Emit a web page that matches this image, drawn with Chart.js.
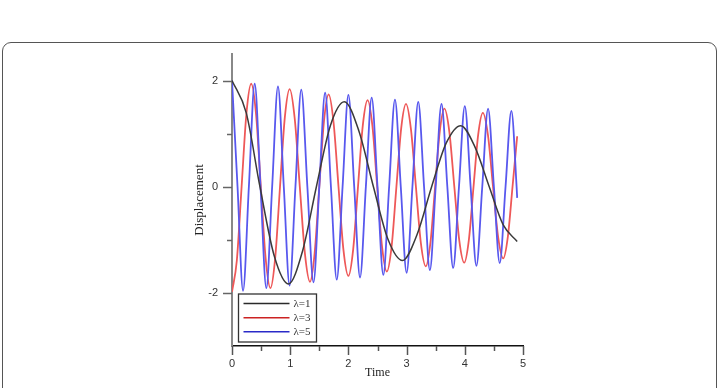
<!DOCTYPE html>
<html>
<head>
<meta charset="utf-8">
<script src="https://cdn.jsdelivr.net/npm/chart.js@4.4.1/dist/chart.umd.min.js"></script>
<style>
  html, body { margin:0; padding:0; background:#fff; width:721px; height:388px; overflow:hidden; }
  #frame { position:absolute; left:2px; top:42px; width:715px; height:420px; border:1px solid #555; border-radius:9px; box-sizing:border-box; }
  #c { position:absolute; left:0; top:0; }
</style>
</head>
<body>
<div id="frame"></div>
<canvas id="c" width="721" height="388"></canvas>
<script>
// ---- data ----
const seriesLabels = ['λ=1', 'λ=3', 'λ=5'];

const blackT = [0, 0.245, 0.48, 0.725, 0.97, 1.21, 1.45, 1.69, 1.93, 2.18, 2.43, 2.68, 2.93, 3.18, 3.43, 3.68, 3.93, 4.17, 4.42, 4.66, 4.90];
const blackY = [2.00, 1.39, 0.00, -1.30, -1.83, -1.22, 0.00, 1.15, 1.60, 1.05, 0.00, -0.99, -1.39, -0.90, 0.00, 0.82, 1.15, 0.76, 0.00, -0.72, -1.03];

const redT = [0, 0.083, 0.165, 0.248, 0.33, 0.413, 0.495, 0.578, 0.66, 0.743, 0.825, 0.908, 0.99, 1.078, 1.165, 1.253, 1.34, 1.42, 1.50, 1.58, 1.66, 1.745, 1.83, 1.915, 2.00, 2.083, 2.165, 2.248, 2.33, 2.413, 2.495, 2.578, 2.66, 2.743, 2.825, 2.908, 2.99, 3.075, 3.16, 3.245, 3.33, 3.41, 3.49, 3.57, 3.65, 3.735, 3.82, 3.905, 3.99, 4.07, 4.15, 4.23, 4.31, 4.398, 4.485, 4.573, 4.66, 4.74, 4.82, 4.90];
const redY = [-1.98, -1.39, 0, 1.38, 1.94, 1.37, 0, -1.35, -1.91, -1.33, 0, 1.31, 1.84, 1.28, 0, -1.26, -1.79, -1.25, 0, 1.23, 1.74, 1.21, 0, -1.19, -1.68, -1.17, 0, 1.16, 1.63, 1.14, 0, -1.13, -1.60, -1.12, 0, 1.11, 1.56, 1.08, 0, -1.06, -1.50, -1.05, 0, 1.04, 1.47, 1.03, 0, -1.01, -1.43, -1.00, 0, 0.98, 1.39, 0.97, 0, -0.95, -1.35, -0.94, 0, 0.95];

const blueT = [0, 0.095, 0.19, 0.29, 0.39, 0.49, 0.59, 0.69, 0.79, 0.89, 0.99, 1.09, 1.19, 1.295, 1.40, 1.50, 1.60, 1.70, 1.80, 1.90, 2.00, 2.10, 2.20, 2.30, 2.40, 2.50, 2.60, 2.70, 2.80, 2.90, 3.00, 3.10, 3.20, 3.30, 3.40, 3.50, 3.60, 3.70, 3.80, 3.90, 4.00, 4.10, 4.20, 4.30, 4.40, 4.50, 4.60, 4.70, 4.80, 4.89, 4.90];
const blueY = [2.00, 0, -1.96, 0, 1.94, 0, -1.91, 0, 1.89, 0, -1.86, 0, 1.83, 0, -1.80, 0, 1.77, 0, -1.75, 0, 1.73, 0, -1.71, 0, 1.68, 0, -1.66, 0, 1.64, 0, -1.62, 0, 1.60, 0, -1.57, 0, 1.56, 0, -1.53, 0, 1.52, 0, -1.49, 0, 1.47, 0, -1.44, 0, 1.43, 0, -0.21];

const xMajorTicks = [0, 1, 2, 3, 4, 5];
const xMinorTicks = [0.5, 1.5, 2.5, 3.5, 4.5];
const yMajorTicks = [-2, 0, 2];
const yMinorTicks = [-1, 1];

const xTitle = 'Time';
const yTitle = 'Displacement';

// ---- styles ----
const lineColors = ['rgba(58,58,58,1)', 'rgba(238,88,88,1)', 'rgba(88,88,238,1)'];
const legendColors = ['#2a2a2a', '#cc2222', '#2a2ac8'];

function pts(T, Y) { return T.map((t, i) => ({ x: t, y: Y[i] })); }

const tickMarks = {
  id: 'tickMarks',
  afterDraw(chart) {
    const ctx = chart.ctx;
    const xs = chart.scales.x, ys = chart.scales.y;
    const a = chart.chartArea;
    ctx.save();
    ctx.strokeStyle = '#555';
    ctx.lineWidth = 1.5;
    const drawX = (v, len) => {
      const px = Math.round(xs.getPixelForValue(v)) + 0.5;
      ctx.beginPath(); ctx.moveTo(px, a.bottom); ctx.lineTo(px, a.bottom + len); ctx.stroke();
    };
    xMajorTicks.forEach(v => drawX(v, 9));
    xMinorTicks.forEach(v => drawX(v, 5));
    ctx.strokeStyle = '#666';
    const drawY = (v, len) => {
      const py = Math.round(ys.getPixelForValue(v)) + 0.5;
      ctx.beginPath(); ctx.moveTo(a.left, py); ctx.lineTo(a.left - len, py); ctx.stroke();
    };
    yMajorTicks.forEach(v => drawY(v, 9));
    yMinorTicks.forEach(v => drawY(v, 5));

    // legend box
    const bx = a.left + 6.5, by = a.bottom - 52, bw = 78, bh = 48;
    ctx.fillStyle = '#fff';
    ctx.fillRect(bx, by, bw, bh);
    ctx.strokeStyle = '#333';
    ctx.lineWidth = 1.3;
    ctx.strokeRect(bx, by, bw, bh);
    const rows = [9.5, 23.7, 37.7];
    ctx.font = '11px "Liberation Serif", "Times New Roman", serif';
    ctx.textBaseline = 'middle';
    ctx.textAlign = 'left';
    chart.data.datasets.forEach((ds, i) => {
      const ry = by + rows[i];
      ctx.strokeStyle = legendColors[i];
      ctx.lineWidth = 1.4;
      ctx.beginPath(); ctx.moveTo(bx + 5, ry); ctx.lineTo(bx + 51, ry); ctx.stroke();
      ctx.fillStyle = '#333';
      ctx.fillText(ds.label, bx + 55, ry + 0.5);
    });
    ctx.restore();
  }
};

new Chart(document.getElementById('c'), {
  type: 'line',
  data: {
    datasets: [
      { label: seriesLabels[0], data: pts(blackT, blackY), borderColor: lineColors[0], borderWidth: 1.5, pointRadius: 0, cubicInterpolationMode: 'monotone', order: 0 },
      { label: seriesLabels[1], data: pts(redT, redY), borderColor: lineColors[1], borderWidth: 1.8, pointRadius: 0, cubicInterpolationMode: 'monotone', order: 2 },
      { label: seriesLabels[2], data: pts(blueT, blueY), borderColor: lineColors[2], borderWidth: 1.8, pointRadius: 0, cubicInterpolationMode: 'monotone', order: 1 }
    ]
  },
  options: {
    responsive: false,
    animation: false,
    devicePixelRatio: 1,
    layout: { padding: { left: 190, right: 198, top: 54, bottom: 0 } },
    plugins: { legend: { display: false }, tooltip: { enabled: false } },
    scales: {
      x: {
        type: 'linear', min: 0, max: 5,
        afterBuildTicks: s => { s.ticks = xMajorTicks.map(v => ({ value: v })); },
        ticks: { autoSkip: false, maxRotation: 0, padding: 11, color: '#333', font: { family: '"Liberation Sans", Arial, sans-serif', size: 11 } },
        grid: { display: false, drawTicks: false },
        border: { display: true, color: '#111', width: 1.5 },
        title: { display: true, text: xTitle, color: '#222', font: { family: '"Liberation Serif", "Times New Roman", serif', size: 12 }, padding: { top: 0, bottom: 8 } },
        afterFit: s => { s.height = 42; }
      },
      y: {
        type: 'linear', min: -3, max: 2.5,
        afterBuildTicks: s => { s.ticks = yMajorTicks.map(v => ({ value: v })); },
        ticks: { autoSkip: false, padding: 14, color: '#333', font: { family: '"Liberation Sans", Arial, sans-serif', size: 11 } },
        grid: { display: false, drawTicks: false },
        border: { display: true, color: '#888', width: 2 },
        title: { display: true, text: yTitle, color: '#222', font: { family: '"Liberation Serif", "Times New Roman", serif', size: 13 }, padding: { top: 2, bottom: 0 } },
        afterFit: s => { s.width = 42; }
      }
    }
  },
  plugins: [tickMarks]
});
</script>
</body>
</html>
